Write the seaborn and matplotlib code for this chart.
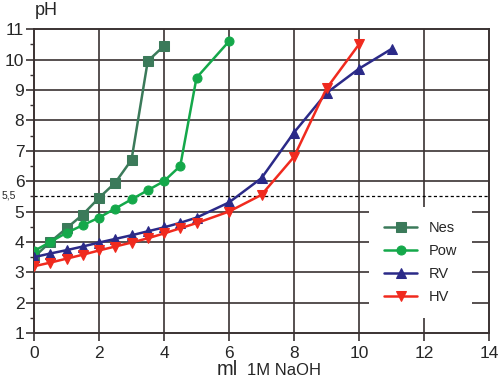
import matplotlib
matplotlib.use("Agg")
import matplotlib.pyplot as plt
import seaborn as sns
import pandas as pd

# titration data: ml of 1M NaOH vs pH
nes_ml = [0, 0.5, 1, 1.5, 2, 2.5, 3, 3.5, 4]
nes_ph = [3.5, 4.0, 4.45, 4.9, 5.45, 5.95, 6.7, 9.95, 10.45]

pow_ml = [0, 0.5, 1, 1.5, 2, 2.5, 3, 3.5, 4, 4.5, 5, 6]
pow_ph = [3.7, 4.0, 4.3, 4.55, 4.8, 5.1, 5.4, 5.7, 6.0, 6.5, 9.4, 10.6]

rv_ml = [0, 0.5, 1, 1.5, 2, 2.5, 3, 3.5, 4, 4.5, 5, 6, 7, 8, 9, 10, 11]
rv_ph = [3.5, 3.62, 3.73, 3.85, 3.98, 4.1, 4.22, 4.35, 4.48, 4.63, 4.8, 5.3,
         6.1, 7.6, 8.9, 9.7, 10.35]

hv_ml = [0, 0.5, 1, 1.5, 2, 2.5, 3, 3.5, 4, 4.5, 5, 6, 7, 8, 9, 10]
hv_ph = [3.2, 3.32, 3.45, 3.58, 3.72, 3.85, 3.98, 4.12, 4.28, 4.45, 4.62, 5.0,
         5.55, 6.8, 9.05, 10.5]

series = [
    ("Nes", nes_ml, nes_ph, "#3b7a5a", "s"),
    ("Pow", pow_ml, pow_ph, "#14a84a", "o"),
    ("RV", rv_ml, rv_ph, "#2b2a88", "^"),
    ("HV", hv_ml, hv_ph, "#f02a1e", "v"),
]

sns.set_style("white")
plt.rcParams["font.family"] = ["Liberation Sans", "DejaVu Sans"]

fig = plt.figure(figsize=(5, 3.79), dpi=100)
ax = fig.add_axes([0.068, 0.121, 0.91, 0.802])

grid_c = "#3a3232"
for x in range(2, 14, 2):
    ax.axvline(x, color=grid_c, lw=1.2, zorder=0)
for y in range(2, 11):
    ax.axhline(y, color=grid_c, lw=1.2, zorder=0)
ax.axhline(5.5, color="black", lw=0.9, ls=(0, (2.5, 2)), zorder=1)

for name, xs, ys, col, mk in series:
    df = pd.DataFrame({"ml": xs, "pH": ys})
    sns.lineplot(data=df, x="ml", y="pH", ax=ax, color=col, marker=mk,
                 markersize=6.5, markeredgecolor=col, linewidth=1.8,
                 label=name, zorder=3)

ax.set_xlim(0, 14)
ax.set_ylim(1, 11)
ax.set_xticks(range(0, 15, 2))
ax.set_yticks(range(1, 12))
ax.set_yticks([i + 0.5 for i in range(1, 11)], minor=True)
ax.tick_params(axis="both", which="major", direction="out", length=6,
               width=1.2, color=grid_c, labelsize=12.5, left=True, bottom=True)
ax.tick_params(axis="y", which="minor", direction="out", length=3,
               width=1, color=grid_c, left=True)
ax.tick_params(axis="y", pad=1)
ax.tick_params(axis="x", pad=3)
for sp in ax.spines.values():
    sp.set_color(grid_c)
    sp.set_linewidth(1.4)
ax.set_xlabel("")
ax.set_ylabel("")

fig.text(0.07, 0.96, "pH", fontsize=13, ha="left", va="baseline")
fig.text(0.004, 0.484, "5,5", fontsize=7.5, ha="left", va="center")
fig.text(0.434, 0.01, "ml", fontsize=14.5, ha="left", va="baseline")
fig.text(0.494, 0.01, "1M NaOH", fontsize=12, ha="left", va="baseline")

leg = ax.legend(loc="lower right", bbox_to_anchor=(0.963, 0.049), frameon=True,
                fontsize=10.5, handlelength=2.3, labelspacing=0.6,
                borderpad=1.0, handletextpad=0.8, borderaxespad=0)
leg.get_frame().set_edgecolor("none")
leg.get_frame().set_facecolor("white")
leg.get_frame().set_alpha(1)
leg.set_zorder(5)

fig.savefig("out.png", dpi=100)
